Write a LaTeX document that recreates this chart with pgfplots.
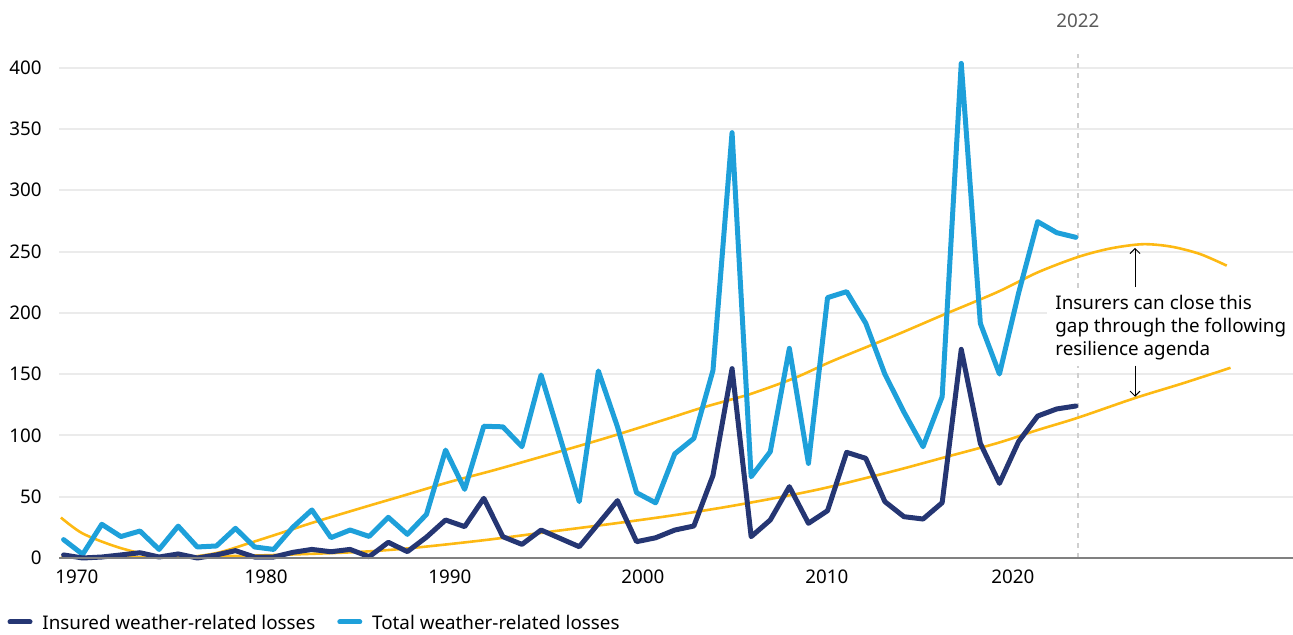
\documentclass[border=0pt]{standalone}
\usepackage{pgfplots}
\pgfplotsset{compat=1.18}
\usepackage{fontspec}
\setmainfont{Noto Sans}
\usetikzlibrary{arrows.meta}

\definecolor{navy}{HTML}{253673}
\definecolor{sky}{HTML}{1EA0DA}
\definecolor{gold}{HTML}{FDB913}
\definecolor{gridgray}{HTML}{EBEBEB}
\definecolor{axisgray}{HTML}{808080}
\definecolor{dashgray}{HTML}{CFCFCF}
\definecolor{labelgray}{HTML}{5A5A5A}

\begin{document}
\fontsize{9.4bp}{11.5bp}\selectfont
\begin{tikzpicture}
\path[use as bounding box] (0,0) rectangle (646.5bp,317.5bp);
\begin{axis}[
    at={(29.5bp,38.5bp)}, anchor=south west,
    scale only axis, width=617bp, height=245.15bp,
    xmin=1969.76, xmax=2034.37, ymin=0, ymax=400,
    clip=false,
    axis line style={draw=none},
    tick style={draw=none}, major tick length=0pt,
    ytick={0,50,...,400},
    ymajorgrids, grid style={gridgray, line width=1bp},
    xtick={1970.7,1980.6,1990.23,2000.33,2009.97,2019.7},
    xticklabels={1970,1980,1990,2000,2010,2020},
    /pgf/number format/assume math mode=true,
    xticklabel style={anchor=base, inner sep=0pt, yshift=-12.5bp},
    yticklabel style={anchor=east, inner sep=0pt, xshift=-8.5bp},
    legend style={at={(-0.04173,-0.1305)}, anchor=west, draw=none, fill=none,
        inner sep=0pt, outer sep=0pt, legend columns=2,
        /tikz/every even column/.append style={column sep=11bp},
        nodes={inner sep=0pt, text depth=0pt}},
    legend cell align=left,
    legend image code/.code={\draw[line width=2.5bp, line cap=round] (0bp,0bp) -- (10bp,0bp); \path (16bp,0bp);},
]
% legend first: insured, then total
\addlegendimage{navy}
\addlegendentry{Insured weather-related losses}
\addlegendimage{sky}
\addlegendentry{Total weather-related losses}

% 2022 marker line
\draw[dashgray, line width=1bp, dash pattern=on 2.5bp off 2.5bp] (axis cs:2023.1,0) -- (axis cs:2023.1,411);
\node[text=labelgray] at (axis cs:2023.1,438) {2022};

% trend curves
\addplot[gold, line width=1.3bp, smooth, forget plot] coordinates {
 (1969.86,33) (1971.0,20) (1972.8,9) (1974.5,2.5) (1976.2,0.5) (1978.0,4)
 (1979.8,12.5) (1981.5,21) (1983.2,29.6) (1986.0,42.7) (1987.6,50) (1990.2,62)
 (1992.85,73) (1998.1,96.5) (2001.7,114) (2003.3,122) (2005.0,129.5) (2006.1,134.5)
 (2008.3,147) (2010.3,161) (2013.6,182) (2016.0,198) (2018.9,217)
 (2021.0,233) (2023.1,245.5) (2024.8,252.5) (2026.5,256) (2028.0,254) (2029.5,248) (2030.9,238.5)};
\addplot[gold, line width=1.3bp, smooth, forget plot] coordinates {
 (1969.86,0.3) (1975,0.8) (1980,2) (1985,4.6) (1988,7.8) (1992,14.5) (1995.5,21.5)
 (1999,28.5) (2002,35) (2005,42.5) (2008.3,52) (2010.3,58.7) (2013.6,71.5)
 (2016,81.6) (2018.9,93.8) (2021,104.4) (2023.1,114.4) (2026.1,130.5)
 (2028.6,142.5) (2031.1,155.2)};

% total weather-related losses
\addplot[sky, line width=2.5bp, line join=round, line cap=round, forget plot] coordinates {
 (1970,15) (1971,3) (1972,27.5) (1973,17.5) (1974,22) (1975,7) (1976,26) (1977,9)
 (1978,9.8) (1979,24.2) (1980,9) (1981,7) (1982,25) (1983,39.2) (1984,16.6) (1985,22.8)
 (1986,17.6) (1987,33.2) (1988,19.3) (1989,35.6) (1990,88) (1991,56) (1992,107.5)
 (1993,107) (1994,90.8) (1995,149.3) (1996,98) (1997,46) (1998,152.6) (1999,107)
 (2000,53.3) (2001,45) (2002,85) (2003,97.6) (2004,153) (2005,347) (2006,66.3)
 (2007,86.7) (2008,171) (2009,77.2) (2010,212.4) (2011,217.3) (2012,191.5) (2013,150)
 (2014,119) (2015,90.8) (2016,131.6) (2017,403.5) (2018,191.4) (2019,150.1) (2020,216)
 (2021,274.4) (2022,265.4) (2023,261.6)};

% insured weather-related losses
\addplot[navy, line width=2.5bp, line join=round, line cap=round, forget plot] coordinates {
 (1970,2.5) (1971,0) (1972,0.8) (1973,2.5) (1974,4.3) (1975,0.8) (1976,3.3) (1977,0)
 (1978,2.5) (1979,6) (1980,0.8) (1981,0.8) (1982,4.6) (1983,7) (1984,5.1) (1985,7)
 (1986,1) (1987,12.8) (1988,5.2) (1989,17) (1990,31) (1991,25.6) (1992,48.7)
 (1993,17.4) (1994,11.1) (1995,22.8) (1996,16) (1997,9.2) (1998,28) (1999,46.8)
 (2000,13.3) (2001,16.5) (2002,22.8) (2003,26.1) (2004,67.3) (2005,154.5) (2006,17.4)
 (2007,31) (2008,58.2) (2009,28.3) (2010,38.6) (2011,86.2) (2012,81.3) (2013,46)
 (2014,33.7) (2015,31.8) (2016,45.1) (2017,170.2) (2018,93.5) (2019,60.9) (2020,94.9)
 (2021,115.8) (2022,121.6) (2023,124)};

% baseline
\draw[axisgray, line width=1bp] (rel axis cs:0,0) -- (rel axis cs:1,0);

% annotation
\node[fill=white, anchor=west, align=left, inner xsep=4bp, inner ysep=3bp]
    at (axis cs:2021.49,187.8) {Insurers can close this\\gap through the following\\resilience agenda};
\draw[line width=0.5bp, -{Straight Barb[length=2.5bp,width=5bp]}] (axis cs:2026.1,221) -- (axis cs:2026.1,253);
\draw[line width=0.5bp, -{Straight Barb[length=2.5bp,width=5bp]}] (axis cs:2026.1,157) -- (axis cs:2026.1,131.5);
\end{axis}
\end{tikzpicture}
\end{document}
